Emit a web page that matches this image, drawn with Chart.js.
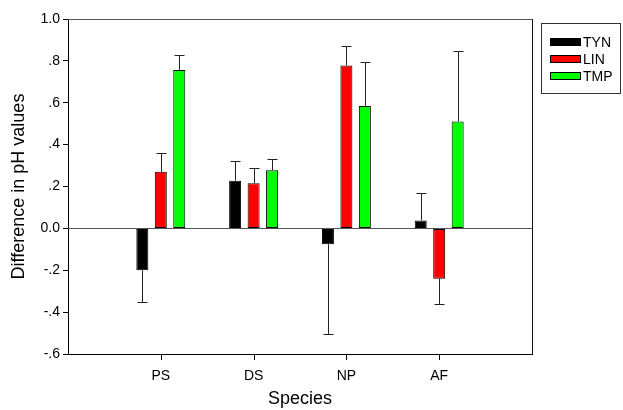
<!DOCTYPE html>
<html>
<head>
<meta charset="utf-8">
<script src="https://cdn.jsdelivr.net/npm/chart.js@4"></script>
<style>
html,body{margin:0;padding:0;background:#fff;}
#wrap{width:623px;height:410px;}
</style>
</head>
<body>
<div id="wrap"><canvas id="c" width="623" height="410"></canvas></div>
<script>
// categories (with empty padding slots at both ends)
const categories = ['', 'PS', 'DS', 'NP', 'AF', ''];
const seriesNames = ['TYN', 'LIN', 'TMP'];
const tynValues = [null, -0.20, 0.228, -0.076, 0.038, null];
const linValues = [null, 0.27, 0.216, 0.778, -0.240, null];
const tmpValues = [null, 0.756, 0.278, 0.584, 0.510, null];
const tynErrors = [null, 0.152, 0.095, 0.43, 0.129, null];
const linErrors = [null, 0.092, 0.072, 0.093, 0.12, null];
const tmpErrors = [null, 0.07, 0.055, 0.212, 0.339, null];
const yTickValues = [-0.6, -0.4, -0.2, 0, 0.2, 0.4, 0.6, 0.8, 1.0];
const yTickLabels = ['-.6', '-.4', '-.2', '0.0', '.2', '.4', '.6', '.8', '1.0'];
const seriesColors = ['#000000', '#ff0000', '#00ff00'];

const FONT = 'Liberation Sans, Arial, sans-serif';

const errorPlugin = {
  id: 'errbars',
  afterDatasetsDraw(chart) {
    const ctx = chart.ctx;
    const y = chart.scales.y;
    const errs = [tynErrors, linErrors, tmpErrors];
    ctx.save();
    ctx.lineWidth = 1;
    ctx.strokeStyle = '#222';
    chart.data.datasets.forEach((ds, i) => {
      const meta = chart.getDatasetMeta(i);
      meta.data.forEach((bar, j) => {
        const v = ds.data[j];
        const e = errs[i][j];
        if (v == null || e == null) return;
        const end = v >= 0 ? v + e : v - e;
        const y0 = y.getPixelForValue(v);
        const y1 = y.getPixelForValue(end);
        const x = Math.round(bar.x) + 0.5;
        ctx.beginPath();
        ctx.moveTo(x, y0);
        ctx.lineTo(x, Math.round(y1) + 0.5);
        ctx.moveTo(x - 5, Math.round(y1) + 0.5);
        ctx.lineTo(x + 5, Math.round(y1) + 0.5);
        ctx.stroke();
      });
    });
    ctx.restore();
  }
};

const framePlugin = {
  id: 'frame',
  beforeDatasetsDraw(chart) {
    const ctx = chart.ctx;
    const a = chart.chartArea;
    const y0 = Math.round(chart.scales.y.getPixelForValue(0)) + 0.5;
    ctx.save();
    ctx.lineWidth = 1;
    ctx.strokeStyle = '#555';
    ctx.beginPath();
    ctx.moveTo(a.left, y0); ctx.lineTo(a.right, y0);
    ctx.moveTo(a.left, Math.round(a.top) + 0.5); ctx.lineTo(a.right, Math.round(a.top) + 0.5);
    ctx.stroke();
    ctx.strokeStyle = '#111';
    ctx.beginPath();
    ctx.moveTo(Math.round(a.right) + 0.5, a.top); ctx.lineTo(Math.round(a.right) + 0.5, a.bottom);
    ctx.stroke();
    ctx.restore();
  },
  afterDraw(chart) {
    const ctx = chart.ctx;
    const a = chart.chartArea;
    ctx.save();
    // x tick marks under each labelled category (centre of the bar group)
    const mid = chart.getDatasetMeta(1);
    ctx.fillStyle = '#000';
    mid.data.forEach((bar, j) => {
      if (!categories[j]) return;
      ctx.fillRect(Math.round(bar.x), Math.round(a.bottom), 1, 6);
    });
    // legend box
    ctx.lineWidth = 1;
    ctx.strokeStyle = '#333';
    ctx.strokeRect(541.5, 23.5, 79, 70);
    ctx.font = '14px ' + FONT;
    ctx.textBaseline = 'middle';
    chart.data.datasets.forEach((ds, i) => {
      const cy = 42 + i * 17;
      ctx.fillStyle = ds.backgroundColor;
      ctx.fillRect(550, cy - 4, 31, 8);
      ctx.strokeStyle = '#000';
      ctx.strokeRect(550.5, cy - 3.5, 30, 7);
      ctx.fillStyle = '#000';
      ctx.fillText(ds.label, 583, cy + 1);
    });
    ctx.restore();
  }
};

new Chart(document.getElementById('c'), {
  type: 'bar',
  data: {
    labels: categories,
    datasets: [
      { label: seriesNames[0], data: tynValues, backgroundColor: seriesColors[0] },
      { label: seriesNames[1], data: linValues, backgroundColor: seriesColors[1] },
      { label: seriesNames[2], data: tmpValues, backgroundColor: seriesColors[2] }
    ].map(d => Object.assign(d, { borderColor: '#000', borderWidth: 1, borderSkipped: false, categoryPercentage: 0.597, barPercentage: 0.65 }))
  },
  options: {
    responsive: false,
    animation: false,
    devicePixelRatio: 1,
    layout: { padding: { left: 0, right: 91, top: 19, bottom: 0 } },
    plugins: { legend: { display: false }, tooltip: { enabled: false } },
    scales: {
      x: {
        offset: false,
        afterFit: s => { s.height = 56; },
        grid: { offset: false, drawOnChartArea: false, tickLength: 5, color: 'rgba(0,0,0,0)' },
        border: { color: '#000', width: 1 },
        ticks: { color: '#000', font: { family: FONT, size: 14 }, padding: 9, maxRotation: 0, autoSkip: false },
        title: { display: true, text: 'Species', color: '#000', font: { family: FONT, size: 18 }, padding: { top: 4, bottom: 0 } }
      },
      y: {
        min: -0.6, max: 1.0,
        afterFit: s => { s.width = 68; },
        afterBuildTicks: s => { s.ticks = yTickValues.map(v => ({ value: v })); },
        grid: { drawOnChartArea: false, tickLength: 5, color: '#000' },
        border: { color: '#000', width: 1 },
        ticks: {
          color: '#000', font: { family: FONT, size: 14 }, padding: 3,
          callback: (v) => { const k = yTickValues.findIndex(t => Math.abs(t - v) < 1e-9); return k >= 0 ? yTickLabels[k] : ''; }
        },
        title: { display: true, text: 'Difference in pH values', color: '#000', font: { family: FONT, size: 18 }, padding: { top: 8, bottom: 0 } }
      }
    }
  },
  plugins: [errorPlugin, framePlugin]
});
</script>
</body>
</html>
